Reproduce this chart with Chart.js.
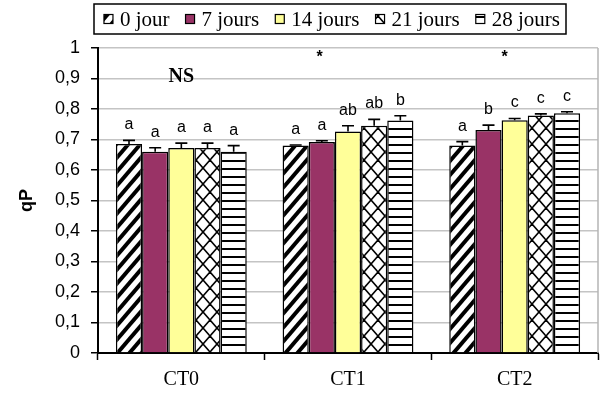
<!DOCTYPE html>
<html>
<head>
<meta charset="utf-8">
<script src="https://cdn.jsdelivr.net/npm/chart.js@4/dist/chart.umd.min.js"></script>
<style>
  html, body { margin: 0; padding: 0; background: #fff; }
  #wrap { width: 607px; height: 396px; position: relative; }
</style>
</head>
<body>
<div id="wrap"><canvas id="c"></canvas></div>
<script>
// Treatments on the x axis
const categories = ['CT0', 'CT1', 'CT2'];
// Storage durations (series)
const seriesNames = ['0 jour', '7 jours', '14 jours', '21 jours', '28 jours'];

// qP means per treatment
const qp0  = [0.685, 0.680, 0.680];
const qp7  = [0.660, 0.692, 0.731];
const qp14 = [0.672, 0.726, 0.763];
const qp21 = [0.672, 0.745, 0.779];
const qp28 = [0.660, 0.762, 0.786];

// standard errors
const se0  = [0.012, 0.002, 0.013];
const se7  = [0.013, 0.004, 0.016];
const se14 = [0.016, 0.019, 0.006];
const se21 = [0.016, 0.021, 0.005];
const se28 = [0.020, 0.016, 0.005];

// significance letters
const let0  = ['a', 'a', 'a'];
const let7  = ['a', 'a', 'b'];
const let14 = ['a', 'ab', 'c'];
const let21 = ['a', 'ab', 'c'];
const let28 = ['a', 'b', 'c'];

// group-level notes (category position, qP level, text)
const noteCats  = [0, 0.83, 1.94];
const noteLevel = [0.905, 0.97, 0.97];
const noteText  = ['NS', '*', '*'];

const yTickLabels = ['0', '0,1', '0,2', '0,3', '0,4', '0,5', '0,6', '0,7', '0,8', '0,9', '1'];

function makePattern(kind) {
  const c = document.createElement('canvas');
  const x = c.getContext('2d');
  let w, h;
  if (kind === 'hatch') {
    w = 12; h = 14;
    c.width = w; c.height = h;
    x.fillStyle = '#fff'; x.fillRect(0, 0, w, h);
    x.strokeStyle = '#000'; x.lineWidth = 4;
    for (const k of [0, 1, 2]) {
      x.beginPath();
      x.moveTo(-w, k * h + h); x.lineTo(2 * w, k * h - 2 * h);
      x.stroke();
    }
  } else if (kind === 'cross') {
    w = 14; h = 16;
    c.width = w; c.height = h;
    x.fillStyle = '#fff'; x.fillRect(0, 0, w, h);
    x.strokeStyle = '#000'; x.lineWidth = 1.6;
    for (const k of [-1, 0, 1]) {
      x.beginPath();
      x.moveTo(-w, -h + k * h); x.lineTo(2 * w, 2 * h + k * h);
      x.stroke();
      x.beginPath();
      x.moveTo(2 * w, -h + k * h); x.lineTo(-w, 2 * h + k * h);
      x.stroke();
    }
  } else {
    w = 8; h = 8;
    c.width = w; c.height = h;
    x.fillStyle = '#fff'; x.fillRect(0, 0, w, h);
    x.fillStyle = '#000'; x.fillRect(0, 0, w, 2);
  }
  return x.createPattern(c, 'repeat');
}

const fills = [makePattern('hatch'), '#993366', '#FFFF99', makePattern('cross'), makePattern('lines')];
const values = [qp0, qp7, qp14, qp21, qp28];
const errors = [se0, se7, se14, se21, se28];
const letters = [let0, let7, let14, let21, let28];

// error bars with significance letters on top
const errBars = {
  id: 'errBars',
  afterDatasetsDraw(chart) {
    const ctx = chart.ctx, ys = chart.scales.y;
    ctx.save();
    chart.data.datasets.forEach((ds, i) => {
      const meta = chart.getDatasetMeta(i);
      meta.data.forEach((bar, j) => {
        const top = ys.getPixelForValue(ds.data[j] + ds.err[j]);
        ctx.strokeStyle = '#000'; ctx.lineWidth = 1.6;
        ctx.beginPath();
        ctx.moveTo(bar.x, bar.y); ctx.lineTo(bar.x, top);
        ctx.moveTo(bar.x - 6, top); ctx.lineTo(bar.x + 6, top);
        ctx.stroke();
        ctx.fillStyle = '#000';
        ctx.font = '16px "Liberation Sans"';
        ctx.textAlign = 'center'; ctx.textBaseline = 'alphabetic';
        ctx.fillText(ds.letters[j], bar.x, top - 11);
      });
    });
    ctx.restore();
  }
};

// NS / * notes, right border, framed legend
const extras = {
  id: 'extras',
  afterDraw(chart) {
    const ctx = chart.ctx, xs = chart.scales.x, ys = chart.scales.y, a = chart.chartArea;
    ctx.save();
    // right frame line
    ctx.strokeStyle = '#b4b4b4'; ctx.lineWidth = 1.5;
    ctx.beginPath(); ctx.moveTo(a.right, a.top); ctx.lineTo(a.right, a.bottom); ctx.stroke();

    noteText.forEach((t, i) => {
      ctx.fillStyle = '#000';
      ctx.font = t === 'NS' ? 'bold 20px "Liberation Serif"' : 'bold 16px "Liberation Sans"';
      ctx.textAlign = 'center'; ctx.textBaseline = 'middle';
      ctx.fillText(t, xs.getPixelForValue(noteCats[i]), ys.getPixelForValue(noteLevel[i]));
    });

    // legend
    const boxL = 94, boxT = 4, boxW = 472, boxH = 30;
    ctx.fillStyle = '#fff'; ctx.fillRect(boxL, boxT, boxW, boxH);
    ctx.strokeStyle = '#000'; ctx.lineWidth = 1.5;
    ctx.strokeRect(boxL, boxT, boxW, boxH);
    ctx.font = '21px "Liberation Serif"';
    const sw = 9, gapT = 7, gapI = 16;
    const widths = chart.data.datasets.map(d => ctx.measureText(d.label).width);
    const total = widths.reduce((s, w) => s + sw + gapT + w, 0) + gapI * (widths.length - 1);
    let x = boxL + (boxW - total) / 2 + 2;
    const cy = boxT + boxH / 2;
    chart.data.datasets.forEach((d, i) => {
      ctx.fillStyle = d.backgroundColor;
      ctx.fillRect(x, cy - sw / 2, sw, sw);
      ctx.strokeStyle = '#000'; ctx.lineWidth = 1.2;
      ctx.strokeRect(x, cy - sw / 2, sw, sw);
      ctx.fillStyle = '#000'; ctx.textAlign = 'left'; ctx.textBaseline = 'middle';
      ctx.fillText(d.label, x + sw + gapT, cy + 1);
      x += sw + gapT + widths[i] + gapI;
    });
    ctx.restore();
  }
};

new Chart(document.getElementById('c'), {
  type: 'bar',
  data: {
    labels: categories,
    datasets: seriesNames.map((name, i) => ({
      label: name,
      data: values[i],
      err: errors[i],
      letters: letters[i],
      backgroundColor: fills[i],
      borderColor: '#000',
      borderWidth: 1.5,
      categoryPercentage: 0.785,
      barPercentage: 1
    }))
  },
  options: {
    responsive: true,
    maintainAspectRatio: false,
    animation: false,
    layout: { padding: { top: 48, right: 9, left: 0, bottom: 0 } },
    plugins: { legend: { display: false }, tooltip: { enabled: false } },
    scales: {
      x: {
        offset: true,
        grid: { display: true, drawOnChartArea: false, drawTicks: true, tickLength: 7, tickColor: '#000', tickWidth: 1.5, offset: true },
        border: { color: '#000', width: 2 },
        ticks: { font: { family: '"Liberation Serif"', size: 20 }, color: '#000', padding: 8 },
        afterFit(s) { s.height = 43; }
      },
      y: {
        min: 0, max: 1,
        ticks: {
          stepSize: 0.1,
          callback: (v, i) => yTickLabels[i],
          font: { family: '"Liberation Sans"', size: 18 },
          color: '#000',
          padding: 11
        },
        grid: { color: '#c4c4c4', lineWidth: 1.5, tickColor: '#000', tickLength: 7, tickWidth: 1.5 },
        border: { color: '#000', width: 2 },
        title: { display: true, text: 'qP', font: { family: '"Liberation Sans"', size: 18, weight: 'bold' }, color: '#000', padding: { top: 16, bottom: 0 } },
        afterFit(s) { s.width = 98; }
      }
    }
  },
  plugins: [errBars, extras]
});
</script>
</body>
</html>
